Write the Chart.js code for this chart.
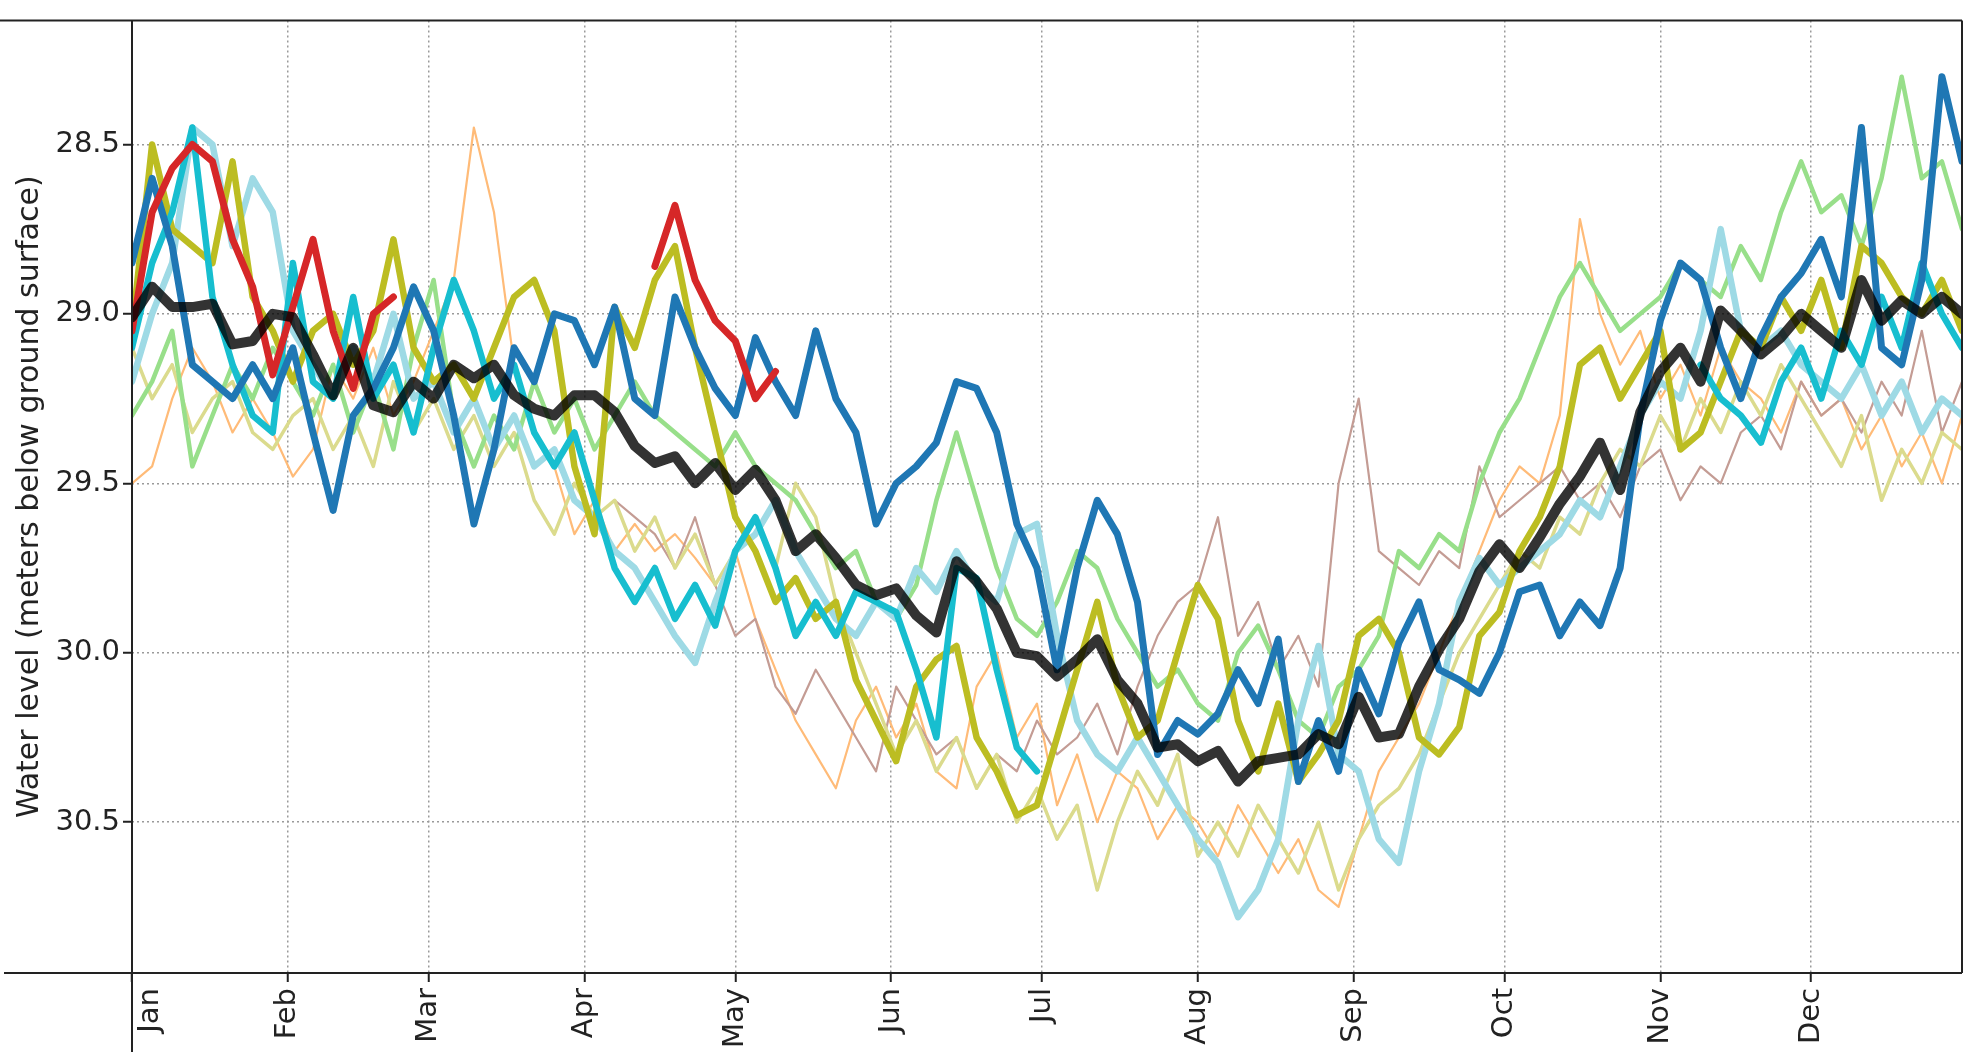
<!DOCTYPE html>
<html>
<head>
<meta charset="utf-8">
<script src="https://cdn.jsdelivr.net/npm/chart.js@4/dist/chart.umd.min.js"></script>
<style>
html,body{margin:0;padding:0;background:#fff;overflow:hidden;}
canvas{display:block;}
</style>
</head>
<body>
<canvas id="c" width="1972" height="1052"></canvas>
<script>
// ---- DATA (day of year, every 4 days) ----
const DAYS = [0,4,8,12,16,20,24,28,32,36,40,44,48,52,56,60,64,68,72,76,80,84,88,92,96,100,
104,108,112,116,120,124,128,132,136,140,144,148,152,156,160,164,168,172,176,180,184,188,192,196,
200,204,208,212,216,220,224,228,232,236,240,244,248,252,256,260,264,268,272,276,280,284,288,292,
296,300,304,308,312,316,320,324,328,332,336,340,344,348,352,356,360,364];

const MONTH_DAYS = [0,31,59,90,120,151,181,212,243,273,304,334];
const MONTH_LABELS = ['Jan','Feb','Mar','Apr','May','Jun','Jul','Aug','Sep','Oct','Nov','Dec'];
const Y_TICKS = [28.5,29.0,29.5,30.0,30.5];
const Y_TITLE = 'Water level (meters below ground surface)';

const lightOrange = [
29.50,29.45,29.25,29.10,29.20,29.35,29.25,29.35,
29.48,29.40,29.15,29.25,29.10,29.30,29.20,29.05,
28.90,28.45,28.70,29.15,29.35,29.45,29.65,29.55,
29.70,29.62,29.70,29.65,29.72,29.80,29.70,29.90,
30.05,30.20,30.30,30.40,30.20,30.10,30.25,30.15,
30.35,30.40,30.10,30.00,30.25,30.15,30.45,30.30,
30.50,30.35,30.40,30.55,30.45,30.50,30.60,30.45,
30.55,30.65,30.55,30.70,30.75,30.55,30.35,30.25,
30.15,30.00,29.85,29.70,29.55,29.45,29.50,29.30,
28.72,29.00,29.15,29.05,29.25,29.15,29.30,29.10,
29.20,29.25,29.35,29.20,29.30,29.25,29.40,29.30,
29.45,29.35,29.50,29.30];

const pinkBrown = [
null,null,null,null,null,null,null,null,
null,null,null,null,null,null,null,null,
null,null,null,null,null,null,null,null,
29.55,29.60,29.65,29.75,29.60,29.80,29.95,29.90,
30.10,30.18,30.05,30.15,30.25,30.35,30.10,30.20,
30.30,30.25,30.40,30.30,30.35,30.20,30.30,30.25,
30.15,30.30,30.10,29.95,29.85,29.80,29.60,29.95,
29.85,30.05,29.95,30.10,29.50,29.25,29.70,29.75,
29.80,29.70,29.75,29.45,29.60,29.55,29.50,29.45,
29.55,29.50,29.60,29.45,29.40,29.55,29.45,29.50,
29.35,29.30,29.40,29.20,29.30,29.25,29.35,29.20,
29.30,29.05,29.35,29.20];

const paleOlive = [
29.10,29.25,29.15,29.35,29.25,29.20,29.35,29.40,
29.30,29.25,29.40,29.30,29.45,29.20,29.35,29.25,
29.40,29.30,29.45,29.35,29.55,29.65,29.50,29.60,
29.55,29.70,29.60,29.75,29.65,29.80,29.70,29.60,
29.75,29.50,29.60,29.85,30.00,30.15,30.30,30.20,
30.35,30.25,30.40,30.30,30.50,30.40,30.55,30.45,
30.70,30.50,30.35,30.45,30.30,30.60,30.50,30.60,
30.45,30.55,30.65,30.50,30.70,30.55,30.45,30.40,
30.30,30.15,30.00,29.90,29.80,29.70,29.75,29.60,
29.65,29.50,29.40,29.45,29.30,29.40,29.25,29.35,
29.20,29.30,29.15,29.25,29.35,29.45,29.30,29.55,
29.40,29.50,29.35,29.40];

const lightGreen = [
29.30,29.20,29.05,29.45,29.30,29.15,29.25,29.10,
29.20,29.30,29.15,29.35,29.20,29.40,29.10,28.90,
29.30,29.45,29.30,29.40,29.20,29.35,29.25,29.40,
29.30,29.20,29.30,29.35,29.40,29.45,29.35,29.45,
29.50,29.55,29.65,29.75,29.70,29.85,29.90,29.80,
29.55,29.35,29.55,29.75,29.90,29.95,29.85,29.70,
29.75,29.90,30.00,30.10,30.05,30.15,30.20,30.00,
29.92,30.05,30.20,30.25,30.10,30.05,29.95,29.70,
29.75,29.65,29.70,29.50,29.35,29.25,29.10,28.95,
28.85,28.95,29.05,29.00,28.95,28.85,28.90,28.95,
28.80,28.90,28.70,28.55,28.70,28.65,28.80,28.60,
28.30,28.60,28.55,28.75];

const lightCyan = [
29.20,29.00,28.85,28.45,28.50,28.80,28.60,28.70,
29.05,29.15,29.25,29.10,29.20,29.00,29.25,29.20,
29.35,29.25,29.40,29.30,29.45,29.40,29.55,29.60,
29.70,29.75,29.85,29.95,30.03,29.85,29.70,29.65,
29.55,29.70,29.80,29.90,29.95,29.85,29.90,29.75,
29.82,29.70,29.80,29.85,29.65,29.62,29.95,30.20,
30.30,30.35,30.25,30.35,30.45,30.55,30.62,30.78,
30.70,30.55,30.20,29.98,30.30,30.35,30.55,30.62,
30.35,30.15,29.85,29.72,29.80,29.75,29.70,29.65,
29.55,29.60,29.45,29.30,29.20,29.25,29.05,28.75,
29.05,29.10,29.05,29.15,29.20,29.25,29.15,29.30,
29.20,29.35,29.25,29.30];

const olive = [
29.05,28.50,28.75,28.80,28.85,28.55,28.95,29.05,
29.20,29.05,29.00,29.15,29.05,28.78,29.10,29.20,
29.15,29.25,29.10,28.95,28.90,29.05,29.45,29.65,
28.98,29.10,28.90,28.80,29.10,29.35,29.60,29.70,
29.85,29.78,29.90,29.85,30.08,30.20,30.32,30.10,
30.02,29.98,30.25,30.35,30.48,30.45,30.25,30.05,
29.85,30.10,30.25,30.20,30.00,29.80,29.90,30.20,
30.35,30.15,30.38,30.30,30.20,29.95,29.90,30.00,
30.25,30.30,30.22,29.95,29.88,29.70,29.60,29.45,
29.15,29.10,29.25,29.15,29.05,29.40,29.35,29.20,
29.05,29.10,28.95,29.05,28.90,29.10,28.80,28.85,
28.95,29.00,28.90,29.05];

const cyan = [
29.10,28.85,28.70,28.45,28.95,29.15,29.30,29.35,
28.85,29.20,29.25,28.95,29.25,29.15,29.35,29.10,
28.90,29.05,29.25,29.15,29.35,29.45,29.35,29.55,
29.75,29.85,29.75,29.90,29.80,29.92,29.70,29.60,
29.75,29.95,29.85,29.95,29.82,29.85,29.88,30.05,
30.25,29.75,29.78,30.05,30.28,30.35,null,null,
null,null,null,null,null,null,null,null,
null,null,null,null,null,null,null,null,
null,null,null,null,null,null,null,null,
null,null,null,null,null,null,29.15,29.25,
29.30,29.38,29.20,29.10,29.25,29.05,29.15,28.95,
29.10,28.85,29.00,29.10];

const blue = [
28.85,28.60,28.80,29.15,29.20,29.25,29.15,29.25,
29.10,29.35,29.58,29.30,29.22,29.10,28.92,29.05,
29.30,29.62,29.40,29.10,29.20,29.00,29.02,29.15,
28.98,29.25,29.30,28.95,29.10,29.22,29.30,29.07,
29.20,29.30,29.05,29.25,29.35,29.62,29.50,29.45,
29.38,29.20,29.22,29.35,29.62,29.75,30.05,29.75,
29.55,29.65,29.85,30.30,30.20,30.24,30.18,30.05,
30.15,29.96,30.38,30.20,30.35,30.05,30.18,29.97,
29.85,30.05,30.08,30.12,30.00,29.82,29.80,29.95,
29.85,29.92,29.75,29.30,29.02,28.85,28.90,29.10,
29.25,29.07,28.95,28.88,28.78,28.95,28.45,29.10,
29.15,28.90,28.30,28.55];

const red = [
29.05,28.70,28.57,28.50,28.55,28.78,28.92,29.18,
28.98,28.78,29.05,29.22,29.00,28.95,null,null,
null,null,null,null,null,null,null,null,
null,null,28.86,28.68,28.90,29.02,29.08,29.25,
29.17,null,null,null,null,null,null,null,
null,null,null,null,null,null,null,null,
null,null,null,null,null,null,null,null,
null,null,null,null,null,null,null,null,
null,null,null,null,null,null,null,null,
null,null,null,null,null,null,null,null,
null,null,null,null,null,null,null,null,
null,null,null,null];

const median = [
29.01,28.92,28.98,28.98,28.97,29.09,29.08,29.00,
29.01,29.12,29.24,29.10,29.27,29.29,29.20,29.25,
29.15,29.19,29.15,29.24,29.28,29.30,29.24,29.24,
29.29,29.39,29.44,29.42,29.50,29.44,29.52,29.46,
29.55,29.70,29.65,29.72,29.80,29.83,29.81,29.89,
29.94,29.73,29.79,29.87,30.00,30.01,30.07,30.02,
29.96,30.08,30.15,30.28,30.27,30.32,30.29,30.38,
30.32,30.31,30.30,30.24,30.27,30.13,30.25,30.24,
30.10,29.99,29.90,29.76,29.68,29.75,29.66,29.56,
29.48,29.38,29.52,29.29,29.17,29.10,29.20,28.99,
29.05,29.12,29.07,29.00,29.05,29.10,28.90,29.02,
28.96,29.00,28.95,29.00];

// ---- CHART ----
const pts = vals => DAYS.map((d, i) => ({x: d, y: vals[i]}));
const FONT = "'DejaVu Sans', Verdana, sans-serif";

function ds(label, vals, color, width, order) {
  return {
    label, data: pts(vals), borderColor: color, borderWidth: width,
    pointRadius: 0, tension: 0, spanGaps: false, fill: false, order,
    borderJoinStyle: 'round', borderCapStyle: 'round'
  };
}

const frame = {
  id: 'frame',
  beforeDraw(chart) {
    // the first month label sits just right of the y axis line, as in the original
    const xs = chart.scales.x;
    const items = xs.getLabelItems(chart.chartArea);
    if (items.length && !items[0]._shifted) {
      items[0].options.translation[0] += 18;
      items[0]._shifted = true;
    }
  },
  afterDraw(chart) {
    const {ctx, chartArea: a} = chart;
    ctx.save();
    ctx.strokeStyle = '#222';
    ctx.lineWidth = 2;
    ctx.beginPath();
    ctx.moveTo(0, a.top); ctx.lineTo(a.right, a.top);
    ctx.moveTo(4, a.bottom); ctx.lineTo(a.right, a.bottom);
    ctx.moveTo(a.left, a.top); ctx.lineTo(a.left, chart.height);
    ctx.moveTo(a.right, a.top); ctx.lineTo(a.right, a.bottom);
    ctx.stroke();
    ctx.restore();
  }
};

new Chart(document.getElementById('c'), {
  type: 'line',
  data: {
    datasets: [
      ds('Median', median, 'rgba(0,0,0,0.8)', 10, 0),
      ds('Year 9', red, '#d62728', 7, 1),
      ds('Year 8', blue, '#1f77b4', 7, 2),
      ds('Year 7', cyan, '#17becf', 6.5, 3),
      ds('Year 6', olive, '#bcbd22', 6.5, 4),
      ds('Year 5', lightCyan, '#9edae5', 6.5, 5),
      ds('Year 4', lightGreen, '#98df8a', 4.5, 6),
      ds('Year 3', paleOlive, '#dbdb8d', 3.5, 7),
      ds('Year 2', pinkBrown, '#c49c94', 2.2, 8),
      ds('Year 1', lightOrange, '#ffbb78', 2.2, 9)
    ]
  },
  options: {
    responsive: false,
    devicePixelRatio: 1,
    animation: false,
    events: [],
    layout: {padding: {left: 0, top: 6, right: 10, bottom: 0}},
    plugins: {legend: {display: false}, tooltip: {enabled: false}},
    scales: {
      x: {
        type: 'linear', min: 0, max: 364,
        afterBuildTicks: s => { s.ticks = MONTH_DAYS.map(v => ({value: v})); },
        afterFit: s => { s.height = 79; },
        grid: {color: '#9a9a9a', lineWidth: 1.5, drawTicks: true, tickLength: 9,
               tickColor: '#222', tickWidth: 2},
        border: {display: false, dash: [2, 3]},
        ticks: {
          autoSkip: false, minRotation: 90, maxRotation: 90, padding: 6,
          color: '#222', font: {family: FONT, size: 29},
          callback: v => MONTH_LABELS[MONTH_DAYS.indexOf(v)]
        }
      },
      y: {
        type: 'linear', reverse: true, min: 28.134, max: 30.945,
        afterBuildTicks: s => { s.ticks = Y_TICKS.map(v => ({value: v})); },
        afterFit: s => { s.width = 132; },
        grid: {color: '#9a9a9a', lineWidth: 1.5, drawTicks: true, tickLength: 9,
               tickColor: '#222', tickWidth: 2},
        border: {display: false, dash: [2, 3]},
        ticks: {
          padding: 3, color: '#222', font: {family: FONT, size: 29},
          callback: v => v.toFixed(1)
        },
        title: {
          display: true, text: Y_TITLE, color: '#222',
          font: {family: FONT, size: 30}, padding: {top: 12, bottom: 0}
        }
      }
    }
  },
  plugins: [frame]
});
</script>
</body>
</html>
